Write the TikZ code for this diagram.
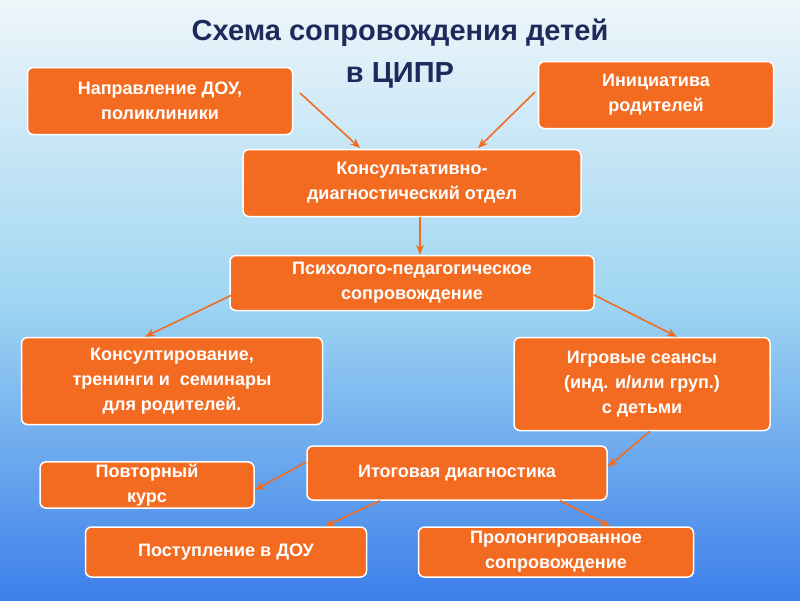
\documentclass[tikz,border=0pt]{standalone}
\usepackage{fontspec}
\setmainfont{Liberation Sans}
\usetikzlibrary{arrows.meta,calc}
\definecolor{bx}{HTML}{F36B21}
\definecolor{ttl}{HTML}{1F2A5C}
\definecolor{bgt}{HTML}{EEF6FA}
\definecolor{bgm}{HTML}{9FD6F2}
\definecolor{bgb}{HTML}{3D7FEA}
\begin{document}
\begin{tikzpicture}[x=1pt,y=-1pt,
  box/.style={fill=bx,draw=white,line width=1.5pt,rounded corners=6pt,text=white,font=\bfseries\fontsize{18}{25}\selectfont,align=center,inner sep=2pt},
  con/.style={draw=bx,line width=1.6pt,-{Stealth[length=10pt,width=8pt]}}]
\shade[top color=bgt,bottom color=bgb,middle color=bgm] (0,0) rectangle (800,600);
\useasboundingbox (0,0) rectangle (800,600);
\node[text=ttl,font=\bfseries\fontsize{29}{42}\selectfont,align=center] (t) at (400,54) {Схема сопровождения детей\\в ЦИПР};
\node[box,minimum width=265pt,minimum height=67pt] (a) at (160,101) {Направление ДОУ,\\поликлиники};
\node[box,minimum width=235pt,minimum height=67pt] (b) at (656,95) {Инициатива\\родителей};
\node[box,minimum width=338pt,minimum height=67pt] (c) at (412,183) {Консультативно-\\диагностический отдел};
\node[box,minimum width=364pt,minimum height=55pt] (d) at (412,283) {Психолого-педагогическое\\сопровождение};
\node[box,minimum width=301pt,minimum height=87pt] (e) at (172,381) {Консултирование,\\тренинги и~~семинары\\для родителей.};
\node[box,minimum width=256pt,minimum height=93pt] (f) at (642,384) {Игровые сеансы\\(инд. и/или груп.)\\с детьми};
\node[box,minimum width=300pt,minimum height=54pt] (g) at (457,473) {Итоговая диагностика};
\node[box,minimum width=214pt,minimum height=44pt] (h) at (147,485) {Повторный\\курс};
\node[box,minimum width=281pt,minimum height=50pt] (i) at (226,552) {Поступление в ДОУ};
\node[box,minimum width=275pt,minimum height=50pt] (j) at (556,552) {Пролонгированное\\сопровождение};
\coordinate (a1) at (300,93); \coordinate (b1) at (535,92);
\draw[con] (a1) -- (360,148);
\draw[con] (b1) -- (478,148);
\draw[con] (c.south -| 420,0) -- (d.north -| 420,0);
\draw[con] (232,295) -- (e.north -| 145,0);
\draw[con] (594,295) -- (f.north -| 677,0);
\draw[con] (f.south -| 650,0) -- (g.east |- 0,467);
\draw[con] (g.west |- 0,462) -- (h.east |- 0,490);
\draw[con] (g.south -| 380,0) -- (i.north -| 325,0);
\draw[con] (g.south -| 560,0) -- (j.north -| 610,0);
\end{tikzpicture}
\end{document}
